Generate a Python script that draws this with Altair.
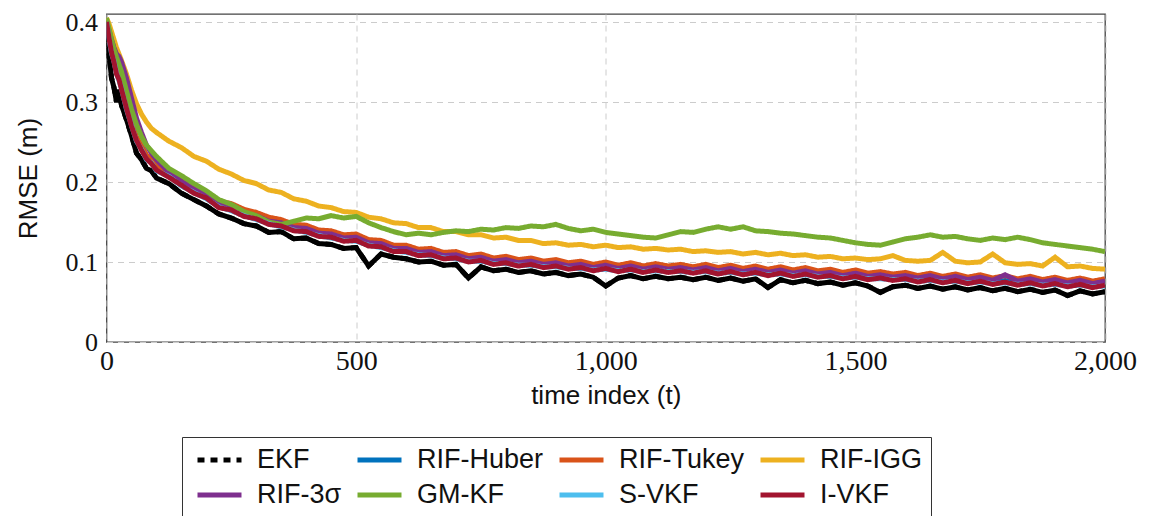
import altair as alt
import pandas as pd

# time grid of the sampled points (denser at the start where the curves drop fast)
t = [0, 5, 10, 15, 20, 25, 30, 40, 50, 60, 70, 80, 90, 100] + list(range(125, 2001, 25))

series_names = ["EKF", "RIF-Huber", "RIF-Tukey", "RIF-IGG", "RIF-3σ", "GM-KF", "S-VKF", "I-VKF"]
colors = ["#000000", "#0072BD", "#D95319", "#EDB120", "#7E2F8E", "#77AC30", "#4DBEEE", "#A2142F"]
dashes = [[7, 6], [1, 0], [1, 0], [1, 0], [1, 0], [1, 0], [1, 0], [1, 0]]

ekf = [.400, .360, .330, .318, .300, .315, .296, .278, .258, .236, .228, .217, .214, .205,
       .198, .186, .178, .170, .160, .155, .148, .145, .137, .138,
       .129, .130, .123, .122, .117, .118, .095, .110, .106, .104,
       .100, .101, .096, .097, .080, .094, .089, .091, .087, .089,
       .085, .087, .083, .085, .081, .070, .080, .083, .079, .082,
       .079, .081, .078, .081, .077, .080, .076, .079, .068, .078,
       .074, .077, .073, .075, .071, .074, .070, .062, .069, .071,
       .067, .070, .066, .069, .065, .068, .064, .067, .063, .066,
       .062, .065, .058, .064, .060, .063]

rif_huber = [.400, .381, .364, .352, .337, .330, .318, .294, .272, .254, .242, .231, .225, .217,
             .208, .198, .188, .182, .170, .167, .159, .156, .149, .147,
             .141, .140, .134, .133, .128, .129, .122, .121, .115, .115,
             .110, .111, .106, .107, .102, .104, .099, .101, .097, .099,
             .095, .097, .093, .095, .091, .094, .090, .093, .089, .092,
             .089, .091, .088, .091, .087, .090, .086, .089, .085, .088,
             .084, .087, .083, .085, .081, .084, .080, .082, .079, .081,
             .077, .080, .076, .079, .075, .078, .074, .077, .073, .076,
             .072, .075, .071, .074, .070, .073]

rif_tukey = [.400, .382, .365, .353, .338, .331, .320, .297, .275, .257, .245, .234, .228, .221,
             .212, .203, .193, .187, .176, .173, .166, .162, .156, .153,
             .147, .146, .140, .139, .134, .135, .128, .127, .121, .121,
             .116, .117, .112, .113, .108, .110, .105, .107, .103, .105,
             .101, .103, .099, .101, .097, .100, .096, .099, .095, .098,
             .095, .097, .094, .097, .093, .096, .092, .095, .091, .094,
             .090, .093, .089, .091, .087, .090, .086, .088, .085, .087,
             .083, .086, .082, .085, .081, .084, .080, .083, .079, .082,
             .078, .081, .077, .080, .076, .079]

rif_igg = [.405, .398, .388, .378, .368, .360, .352, .335, .315, .298, .285, .275, .267, .262,
           .251, .243, .232, .226, .216, .210, .202, .198, .190, .187,
           .179, .176, .170, .168, .163, .162, .156, .154, .149, .148,
           .143, .143, .138, .138, .134, .134, .130, .131, .127, .127,
           .123, .124, .121, .122, .119, .121, .118, .119, .116, .117,
           .115, .116, .113, .114, .112, .113, .110, .112, .109, .111,
           .108, .109, .106, .107, .104, .105, .103, .104, .108, .102,
           .101, .102, .112, .101, .099, .100, .110, .099, .097, .098,
           .095, .106, .094, .095, .092, .091]

rif_3s = [.400, .390, .378, .368, .360, .357, .350, .330, .305, .280, .262, .246, .236, .228,
          .212, .201, .191, .184, .173, .169, .161, .158, .151, .149,
          .143, .142, .136, .135, .130, .131, .124, .123, .117, .117,
          .112, .113, .108, .109, .104, .106, .101, .103, .099, .101,
          .097, .099, .095, .097, .093, .096, .092, .095, .091, .094,
          .091, .093, .090, .093, .089, .092, .088, .091, .087, .090,
          .086, .089, .085, .087, .083, .086, .082, .084, .081, .083,
          .080, .083, .079, .082, .078, .081, .077, .084, .076, .079,
          .075, .078, .074, .077, .073, .076]

gm_kf = [.405, .392, .378, .366, .356, .347, .338, .314, .291, .272, .257, .246, .239, .232,
         .217, .208, .198, .189, .178, .172, .163, .158, .150, .147,
         .151, .155, .154, .158, .155, .157, .149, .143, .138, .134,
         .136, .134, .137, .139, .138, .141, .140, .143, .142, .145,
         .144, .147, .142, .139, .141, .137, .135, .133, .131, .130,
         .134, .138, .137, .141, .144, .141, .144, .139, .138, .136,
         .135, .133, .131, .130, .127, .124, .122, .121, .125, .129,
         .131, .134, .131, .132, .129, .127, .130, .128, .131, .128,
         .124, .122, .120, .118, .116, .113]

s_vkf = [.400, .379, .361, .351, .336, .327, .317, .291, .271, .251, .241, .228, .224, .214,
         .207, .195, .187, .179, .169, .164, .158, .153, .148, .144,
         .140, .137, .133, .130, .127, .126, .121, .118, .114, .112,
         .109, .108, .105, .104, .101, .101, .098, .098, .096, .096,
         .094, .094, .092, .092, .090, .091, .089, .090, .088, .089,
         .088, .088, .087, .088, .086, .087, .085, .086, .084, .085,
         .083, .084, .082, .082, .080, .081, .079, .079, .078, .078,
         .076, .077, .075, .076, .074, .075, .073, .074, .072, .073,
         .071, .072, .070, .071, .069, .070]

i_vkf = [.400, .380, .362, .350, .335, .328, .316, .292, .270, .252, .240, .229, .223, .215,
         .206, .196, .186, .180, .168, .165, .157, .154, .147, .145,
         .139, .138, .132, .131, .126, .127, .120, .119, .113, .113,
         .108, .109, .104, .105, .100, .102, .097, .099, .095, .097,
         .093, .095, .091, .093, .089, .092, .088, .091, .087, .090,
         .087, .089, .086, .089, .085, .088, .084, .087, .083, .086,
         .082, .085, .081, .083, .079, .082, .078, .080, .077, .079,
         .075, .078, .074, .077, .073, .076, .072, .075, .071, .074,
         .070, .073, .069, .072, .068, .071]

all_series = [ekf, rif_huber, rif_tukey, rif_igg, rif_3s, gm_kf, s_vkf, i_vkf]

rows = []
for name, vals in zip(series_names, all_series):
    for ti, v in zip(t, vals):
        rows.append({"t": ti, "rmse": v, "method": name})
df = pd.DataFrame(rows)

SERIF = "Liberation Serif"
SANS = "Liberation Sans"

legend_kw = dict(
    title=None, orient="none", legendX=75.5, legendY=423,
    direction="horizontal", columns=4,
    symbolType="stroke", symbolSize=1936, symbolStrokeWidth=5, symbolOffset=4,
    clipHeight=28,
    labelFont=SANS, labelFontSize=27, labelColor="#111111",
    labelOffset=13, columnPadding=9, rowPadding=7, padding=9,
    strokeColor="#333333", fillColor="white", labelLimit=300,
)

x_enc = alt.X("t:Q", scale=alt.Scale(domain=[0, 2000], nice=False),
              axis=alt.Axis(values=[0, 500, 1000, 1500, 2000], format=",.0f",
                            title="time index (t)", labelPadding=5, titlePadding=7,
                            labelFlush=False, labelFont=SERIF, labelFontSize=28,
                            titleFont=SANS, titleFontSize=26))
y_enc = alt.Y("rmse:Q", scale=alt.Scale(domain=[0, 0.41], nice=False),
              axis=alt.Axis(values=[0, 0.1, 0.2, 0.3, 0.4], format="~g",
                            title="RMSE (m)", labelPadding=9, titlePadding=24,
                            labelFlush=False, labelFont=SERIF, labelFontSize=26,
                            titleFont=SANS, titleFontSize=26))

base = alt.Chart(df)

# solid underlay for the EKF trace (its dense noise reads as a solid black band)
ekf_under = base.transform_filter(alt.datum.method == "EKF").mark_line(
    strokeWidth=5, clip=True, color="#000000"
).encode(x=x_enc, y=y_enc)

lines = base.mark_line(strokeWidth=5, clip=True).encode(
    x=x_enc, y=y_enc,
    color=alt.Color("method:N", sort=series_names,
                    scale=alt.Scale(domain=series_names, range=colors),
                    legend=alt.Legend(**legend_kw)),
    strokeDash=alt.StrokeDash("method:N", sort=series_names,
                              scale=alt.Scale(domain=series_names, range=dashes),
                              legend=alt.Legend(**legend_kw)),
)

chart = alt.layer(ekf_under, lines).properties(
    width=998.5, height=328,
    autosize=alt.AutoSizeParams(type="none"),
    padding={"left": 98.5, "top": 6, "right": 38, "bottom": 200},
).configure_view(
    stroke="#444444", strokeWidth=1.3
).configure_axis(
    grid=True, gridColor="#cccccc", gridDash=[6, 5], gridWidth=1,
    domain=False, ticks=False,
    labelFont=SERIF, labelFontSize=28, labelColor="#111111",
    titleFont=SANS, titleFontSize=26, titleFontWeight="normal",
    titleColor="#111111",
)

chart.save("out.html", embed_options={"renderer": "svg", "actions": False})
